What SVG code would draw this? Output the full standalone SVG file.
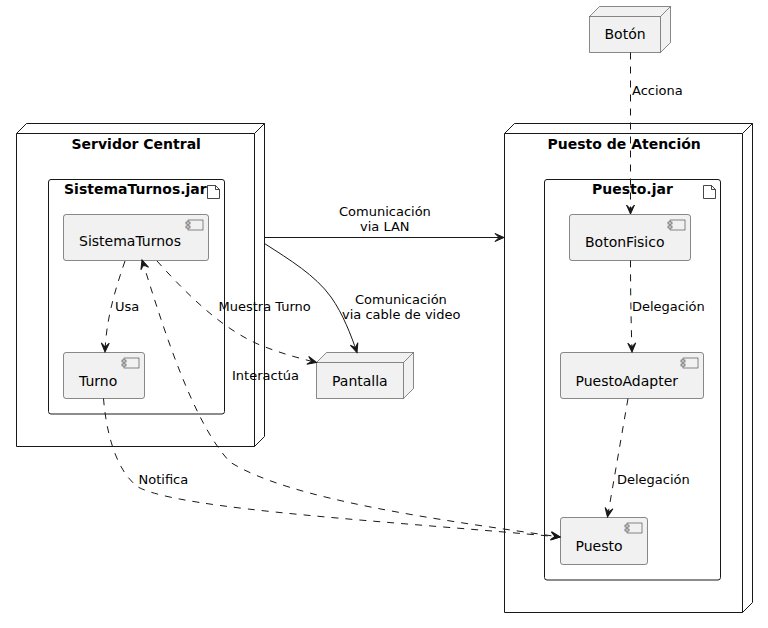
<svg xmlns="http://www.w3.org/2000/svg" width="768" height="628" viewBox="0 0 768 628">
<style>
text{font-family:"DejaVu Sans",sans-serif;fill:#000}
.t{font-size:14px}
.b{font-size:14px;font-weight:bold}
.l{font-size:13px}
.c{fill:none;stroke:#181818;stroke-width:1}
.f{fill:#fff;stroke:#181818;stroke-width:1}
.g{fill:#f1f1f1;stroke:#181818;stroke-width:.5}
.e{fill:none;stroke:#181818;stroke-width:1}
.d{stroke-dasharray:7 7}
</style>
<defs>
<marker id="a" markerUnits="userSpaceOnUse" markerWidth="12" markerHeight="12" refX="10" refY="6" orient="auto-start-reverse" overflow="visible"><path d="M10,6 L1,2 L5,6 L1,10 Z" fill="#181818" stroke="#181818" stroke-width="1"/></marker>
<g id="ci"><rect x="0" y="0" width="15" height="10" fill="#f1f1f1" stroke="#181818" stroke-width=".5"/><rect x="-2" y="2" width="4" height="2" fill="#f1f1f1" stroke="#181818" stroke-width=".5"/><rect x="-2" y="6" width="4" height="2" fill="#f1f1f1" stroke="#181818" stroke-width=".5"/></g>
<path id="fi" d="M0,0 V13 H12 V4 L8,0 Z M8,0 V4 H12" fill="none" stroke="#181818" stroke-width=".8"/>
</defs>
<rect width="768" height="628" fill="#fff"/>
<g id="servidor-central">
<path class="c" d="M16.5,133.5 L26.5,123.5 H264.5 V436.5 L254.5,446.5 H16.5 Z M16.5,133.5 H254.5 V446.5 M254.5,133.5 L264.5,123.5"/>
<text class="b" x="71.5" y="149">Servidor Central</text>
</g>
<g id="sistematurnos-jar">
<rect class="c" x="48.5" y="179.5" width="176" height="234.500" rx="2.500"/>
<text class="b" x="64" y="194">SistemaTurnos.jar</text>
<use href="#fi" x="207.500" y="185.500"/>
</g>
<g id="sistematurnos">
<rect class="g" x="63.5" y="214.5" width="145" height="46" rx="2.500"/>
<use href="#ci" x="188" y="220"/>
<text class="t" x="79" y="246">SistemaTurnos</text>
</g>
<g id="turno">
<rect class="g" x="63.5" y="352.5" width="81" height="46" rx="2.500"/>
<use href="#ci" x="124" y="358"/>
<text class="t" x="79" y="386">Turno</text>
</g>
<g id="pantalla">
<path class="g" d="M316.500,362.500 L326.500,352.500 H413.500 V388.500 L403.500,398.500 H316.500 Z"/>
<path class="g" style="fill:none" d="M316.500,362.500 H403.500 V398.500 M403.500,362.500 L413.500,352.500"/>
<text class="t" x="332" y="386">Pantalla</text>
</g>
<g id="boton">
<path class="g" d="M589.500,16.500 L599.500,6.500 H670.500 V42.500 L660.500,52.500 H589.500 Z"/>
<path class="g" style="fill:none" d="M589.500,16.500 H660.500 V52.500 M660.500,16.500 L670.500,6.500"/>
<text class="t" x="604.500" y="39">Botón</text>
</g>
<g id="puesto-de-atencion">
<path class="c" d="M504.500,133.500 L514.500,123.500 H752.500 V602.500 L742.500,612.500 H504.500 Z M504.500,133.500 H742.500 V612.500 M742.500,133.500 L752.500,123.500"/>
<text class="b" x="547.500" y="149">Puesto de Atención</text>
</g>
<g id="puesto-jar">
<rect class="c" x="544.5" y="179.5" width="176" height="400.500" rx="2.500"/>
<text class="b" x="592" y="194">Puesto.jar</text>
<use href="#fi" x="703.500" y="185.500"/>
</g>
<g id="botonfisico">
<rect class="g" x="569.5" y="214.5" width="121" height="46" rx="2.500"/>
<use href="#ci" x="670" y="220"/>
<text class="t" x="585" y="247">BotonFisico</text>
</g>
<g id="puestoadapter">
<rect class="g" x="560.5" y="352.5" width="143" height="46" rx="2.500"/>
<use href="#ci" x="683" y="358"/>
<text class="t" x="575.500" y="386">PuestoAdapter</text>
</g>
<g id="puesto">
<rect class="g" x="560.5" y="517.5" width="87" height="47" rx="2.500"/>
<use href="#ci" x="627" y="523"/>
<text class="t" x="575.500" y="551">Puesto</text>
</g>
<g id="connectors">
<path class="e" marker-end="url(#a)" d="M264.500,237.500 H504"/>
<path class="e" marker-end="url(#a)" d="M264.500,243.500 C290,260 315,275 331,297 C343,314 351,335 357,352.500"/>
<path class="e d" marker-end="url(#a)" d="M630.500,52.500 V214"/>
<path class="e d" marker-end="url(#a)" d="M630.500,260.500 C630.500,290 631,320 632,352"/>
<path class="e d" marker-end="url(#a)" d="M628,398.500 L607.500,517"/>
<path class="e d" marker-end="url(#a)" d="M125,261 C115,290 106,320 105,352"/>
<path class="e d" marker-end="url(#a)" d="M157,261 C185,292 220,328 260,345 C280,353 298,358 316.500,362.500"/>
<path class="e d" marker-end="url(#a)" d="M103.500,398.500 C106,430 115,470 138,487 C180,510 400,522 560,537"/>
<path class="e d" marker-start="url(#a)" marker-end="url(#a)" d="M142,260 C158,310 190,420 230,462 C290,500 440,520 560,537"/>
</g>
<g id="labels">
<text class="l" x="339" y="216">Comunicación</text>
<text class="l" x="360" y="231">via LAN</text>
<text class="l" x="355" y="304">Comunicación</text>
<text class="l" x="342" y="319">via cable de video</text>
<text class="l" x="115" y="311">Usa</text>
<text class="l" x="218.500" y="311">Muestra Turno</text>
<text class="l" x="232" y="380">Interactúa</text>
<text class="l" x="138.500" y="484">Notifica</text>
<text class="l" x="632" y="95">Acciona</text>
<text class="l" x="632" y="311">Delegación</text>
<text class="l" x="617" y="484">Delegación</text>
</g>
</svg>
